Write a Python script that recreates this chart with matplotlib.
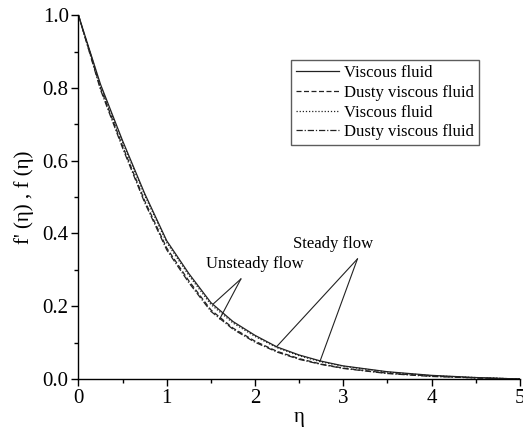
import matplotlib.pyplot as plt
from matplotlib.ticker import MultipleLocator

plt.rcParams['font.family'] = ['Liberation Serif', 'DejaVu Serif']

eta = [0, 0.25, 0.5, 0.75, 1.0, 1.25, 1.5, 1.75, 2.0, 2.25, 2.5, 2.75, 3.0, 3.5, 4.0, 4.5, 5.0]
steady_viscous = [1.0, 0.81, 0.655, 0.51, 0.38, 0.29, 0.21, 0.158, 0.12, 0.088, 0.066, 0.049, 0.036, 0.02, 0.01, 0.004, 0.0]
steady_dusty = [1.0, 0.80, 0.64, 0.49, 0.36, 0.27, 0.19, 0.14, 0.104, 0.076, 0.056, 0.041, 0.030, 0.016, 0.008, 0.003, 0.0]
unsteady_viscous = [1.0, 0.805, 0.65, 0.505, 0.375, 0.285, 0.205, 0.154, 0.117, 0.086, 0.064, 0.047, 0.035, 0.019, 0.009, 0.004, 0.0]
unsteady_dusty = [1.0, 0.795, 0.635, 0.485, 0.355, 0.265, 0.186, 0.137, 0.101, 0.074, 0.054, 0.040, 0.029, 0.015, 0.007, 0.003, 0.0]

legend_labels = ['Viscous fluid', 'Dusty viscous fluid', 'Viscous fluid', 'Dusty viscous fluid']

fig = plt.figure(figsize=(5.23, 4.30), dpi=100)
ax = fig.add_axes([0.150, 0.1186, 0.844, 0.846])

ax.plot(eta, steady_viscous, color='#222222', linestyle='-', lw=0.9, label=legend_labels[0])
ax.plot(eta, steady_dusty, color='#222222', linestyle=(0, (4, 2)), lw=0.9, label=legend_labels[1])
ax.plot(eta, unsteady_viscous, color='#222222', linestyle=(0, (1, 1.5)), lw=0.9, label=legend_labels[2])
ax.plot(eta, unsteady_dusty, color='#222222', linestyle=(0, (5, 1.5, 1, 1.5)), lw=0.9, label=legend_labels[3])

ax.set_xlim(0, 5)
ax.set_ylim(0, 1.0)
ax.xaxis.set_major_locator(MultipleLocator(1))
ax.xaxis.set_minor_locator(MultipleLocator(0.5))
ax.yaxis.set_major_locator(MultipleLocator(0.2))
ax.yaxis.set_minor_locator(MultipleLocator(0.1))
ax.xaxis.set_major_formatter(plt.FuncFormatter(lambda v, p: '%d' % v))
ax.yaxis.set_major_formatter(plt.FuncFormatter(lambda v, p: '%.1f' % v))

for side in ['top', 'right']:
    ax.spines[side].set_visible(False)
for side in ['left', 'bottom']:
    ax.spines[side].set_linewidth(1.0)

ax.tick_params(which='major', direction='out', length=5, width=1, labelsize=15, pad=2)
ax.tick_params(which='minor', direction='out', length=3, width=1)

ax.set_xlabel('\u03b7', fontsize=15, labelpad=0)
ax.set_ylabel("f' (\u03b7) , f (\u03b7)", fontsize=15, labelpad=6)

leg = ax.legend(loc='upper left', bbox_to_anchor=(0.481, 0.876), fontsize=12,
                frameon=True, fancybox=False, handlelength=2.6, handletextpad=0.3,
                borderpad=0.3, labelspacing=0.22, borderaxespad=0)
leg.get_frame().set_edgecolor('#333333')
leg.get_frame().set_linewidth(1.0)

# annotation pointers
ax.text(2.0, 0.317, 'Unsteady flow', fontsize=12, ha='center', va='center')
ax.plot([1.84, 1.53], [0.275, 0.207], color='#222222', lw=0.8)
ax.plot([1.84, 1.60], [0.275, 0.165], color='#222222', lw=0.8)
ax.text(2.88, 0.372, 'Steady flow', fontsize=12, ha='center', va='center')
ax.plot([3.16, 2.245], [0.33, 0.089], color='#222222', lw=0.8)
ax.plot([3.16, 2.735], [0.33, 0.048], color='#222222', lw=0.8)

fig.savefig('out.png')
plt.close()
